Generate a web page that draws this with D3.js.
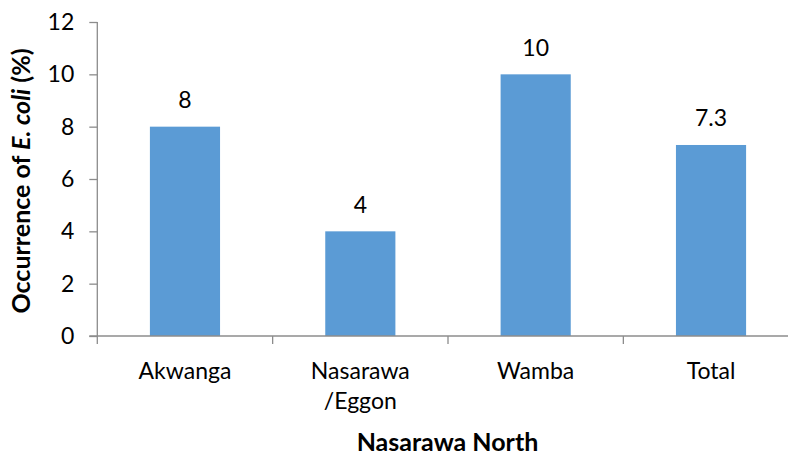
<!DOCTYPE html>
<html>
<head>
<meta charset="utf-8">
<script src="https://cdn.jsdelivr.net/npm/d3@7"></script>
<style>
  html, body { margin: 0; padding: 0; background: #fff; }
  svg { display: block; font-family: Lato, "Open Sans", sans-serif; }
</style>
</head>
<body>
<svg id="chart" width="788" height="455"></svg>
<script>
// Occurrence of E. coli by location in Nasarawa North
const categories = ["Akwanga", "Nasarawa\n/Eggon", "Wamba", "Total"];
const values = [8, 4, 10, 7.3];
const valueLabels = ["8", "4", "10", "7.3"];
const yTicks = [0, 2, 4, 6, 8, 10, 12];
const xTitle = "Nasarawa North";

const svg = d3.select("#chart");
const W = 788, H = 455;
const plotLeft = 97.3, plotRight = 798.7, plotTop = 22, plotBottom = 336;

const x = d3.scaleBand()
  .domain(categories)
  .range([plotLeft, plotRight])
  .paddingInner(0.6)
  .paddingOuter(0.3);

const y = d3.scaleLinear().domain([0, 12]).range([plotBottom, plotTop]);

const axisColor = "#8c8c8c";
const step = x.step();

// bars
svg.append("g").selectAll("rect")
  .data(categories)
  .join("rect")
  .attr("x", d => x(d))
  .attr("y", (d, i) => y(values[i]))
  .attr("width", x.bandwidth())
  .attr("height", (d, i) => y(0) - y(values[i]))
  .attr("fill", "#5b9bd5");

// y axis
const yAxis = d3.axisLeft(y).tickValues(yTicks).tickSize(8).tickPadding(15)
  .tickFormat(d3.format("d"));
const gy = svg.append("g").attr("transform", `translate(${plotLeft},0)`).call(yAxis);
gy.select(".domain").attr("stroke", axisColor).attr("stroke-width", 1.3)
  .attr("d", `M0,${plotTop}V${plotBottom}`);
gy.selectAll(".tick line").attr("stroke", axisColor).attr("stroke-width", 1.3);
gy.selectAll(".tick text").attr("font-size", 23).attr("fill", "#000")
  .attr("font-family", "Lato, sans-serif");

// x axis line and category boundary ticks
const gx = svg.append("g");
gx.append("line")
  .attr("x1", plotLeft - 8).attr("x2", W)
  .attr("y1", plotBottom).attr("y2", plotBottom)
  .attr("stroke", axisColor).attr("stroke-width", 1.3);
const boundaries = categories.map(c => x(c) - (step - x.bandwidth()) / 2).concat([plotRight]);
gx.selectAll("line.tk")
  .data(boundaries)
  .join("line")
  .attr("class", "tk")
  .attr("x1", d => d).attr("x2", d => d)
  .attr("y1", plotBottom).attr("y2", plotBottom + 8)
  .attr("stroke", axisColor).attr("stroke-width", 1.3);

// category labels (multi-line)
const lab = gx.selectAll("text.cat")
  .data(categories)
  .join("text")
  .attr("class", "cat")
  .attr("text-anchor", "middle")
  .attr("font-size", 23)
  .attr("fill", "#000");
lab.each(function (d) {
  const t = d3.select(this);
  d.split("\n").forEach((line, i) => {
    t.append("tspan")
      .attr("x", x(d) + x.bandwidth() / 2)
      .attr("y", 379 + i * 30)
      .text(line);
  });
});

// value labels
svg.append("g").selectAll("text")
  .data(categories)
  .join("text")
  .attr("x", d => x(d) + x.bandwidth() / 2)
  .attr("y", (d, i) => y(values[i]) - 18.5)
  .attr("text-anchor", "middle")
  .attr("font-size", 23)
  .attr("fill", "#000")
  .text((d, i) => valueLabels[i]);

// axis titles
svg.append("text")
  .attr("x", 447.5)
  .attr("y", 451)
  .attr("text-anchor", "middle")
  .attr("font-size", 25)
  .attr("font-weight", "bold")
  .attr("fill", "#000")
  .text(xTitle);

const yt = svg.append("text")
  .attr("transform", `translate(30,181) rotate(-90)`)
  .attr("text-anchor", "middle")
  .attr("font-size", 25)
  .attr("font-weight", "bold")
  .attr("fill", "#000");
yt.append("tspan").text("Occurrence of ");
yt.append("tspan").attr("font-style", "italic").text("E. coli");
yt.append("tspan").text(" (%)");
</script>
</body>
</html>
